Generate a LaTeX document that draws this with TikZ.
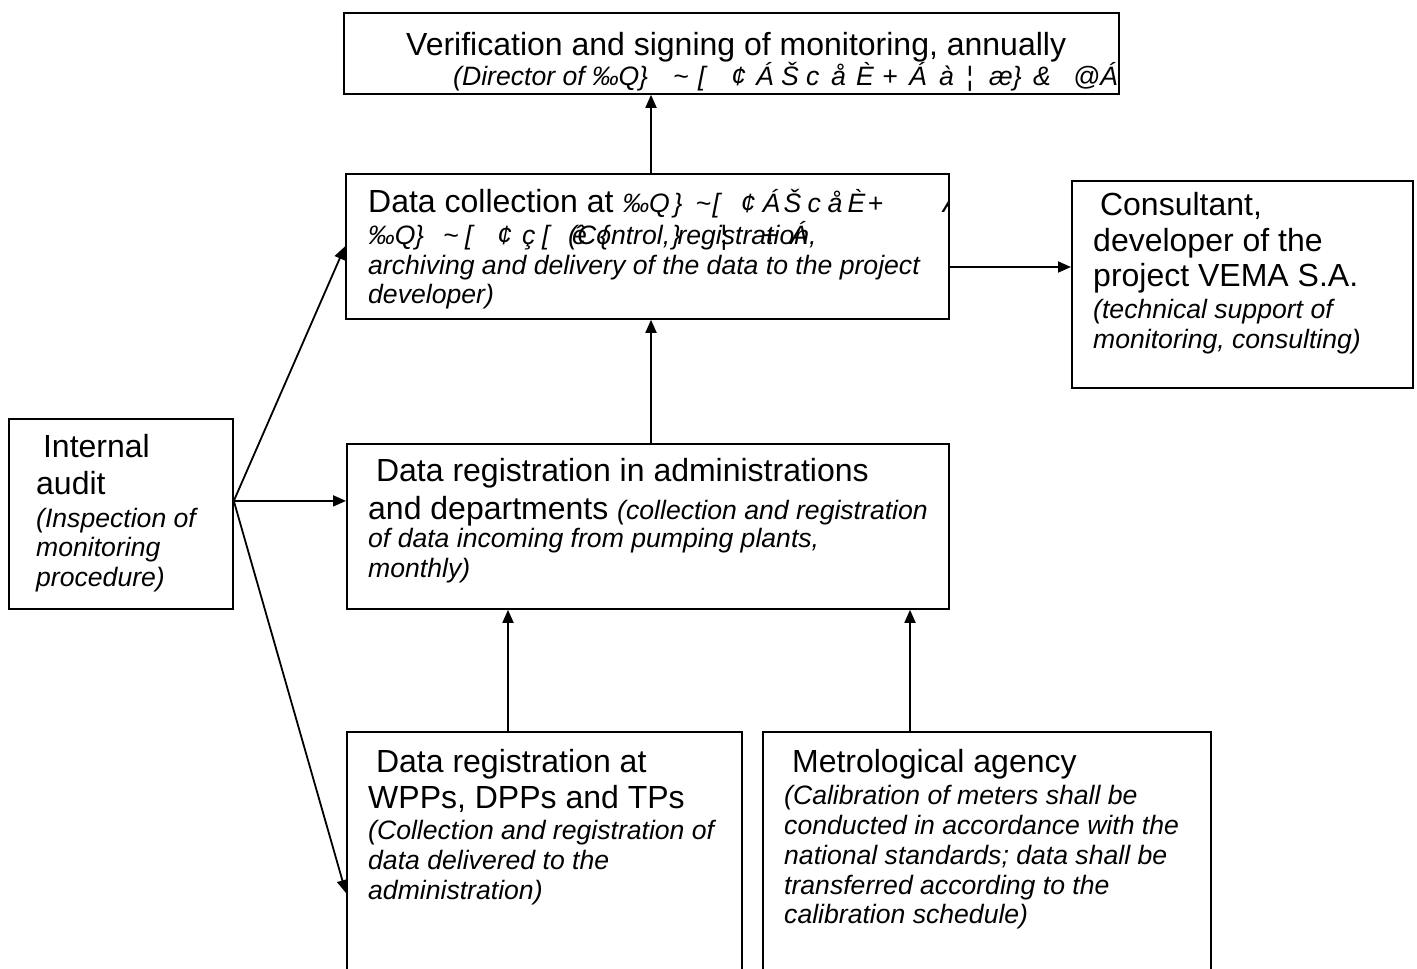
\documentclass[tikz,border=0pt]{standalone}
\usepackage{fontspec}
\setmainfont{Liberation Sans}
\usetikzlibrary{arrows.meta}
\newcommand\gl[2]{\makebox[#1pt][l]{#2}}
\newcommand\itsz{\fontsize{26.6}{30}\selectfont\itshape}
\begin{document}
\begin{tikzpicture}[x=1pt,y=-1pt,
  box/.style={draw, line width=1.8pt, rectangle, inner sep=0pt, anchor=north west},
  mt/.style={anchor=base west, inner sep=0pt, font=\fontsize{32}{36}\selectfont},
  it/.style={anchor=base west, inner sep=0pt, font=\itsz},
  arr/.style={line width=1.8pt, -{Triangle[length=13pt,width=11pt]}}]
\clip (0,0) rectangle (1417,969);
\fill[white] (0,0) rectangle (1417,969);
% boxes
\node[box, minimum width=775pt, minimum height=81pt] (top) at (343,12) {};
\node[box, minimum width=603pt, minimum height=145pt] (dc) at (345,173) {};
\node[box, minimum width=341pt, minimum height=207pt] (cons) at (1071,180) {};
\node[box, minimum width=224pt, minimum height=190pt] (audit) at (8,418) {};
\node[box, minimum width=602pt, minimum height=165pt] (admin) at (346,443) {};
\node[box, minimum width=395pt, minimum height=300pt] (wpp) at (346,731) {};
\node[box, minimum width=448pt, minimum height=300pt] (metro) at (762,731) {};
% top box text
\begin{scope}
\clip (top.south west) rectangle (top.north east);
\node[mt] (t1) at (406,55) {Verification and signing of monitoring, annually};
\node[it] (t2) at (453,85) {(Director of \gl{47}{‰Q}\gl{34}{\}}\gl{25}{\textasciitilde}\gl{33}{[}\gl{25}{¢}\gl{25}{Á}\gl{25}{Š}\gl{25}{c}\gl{25}{å}\gl{26}{È}\gl{27}{+}\gl{30}{Á}\gl{27}{à}\gl{23}{¦}\gl{44}{æ\}}\gl{40}{\&}@Á};
\end{scope}
% data collection text
\begin{scope}
\clip (dc.south west) rectangle (dc.north east);
\node[mt] (d1) at (368,212) {Data collection at {\itsz\gl{51}{‰Q}\gl{22}{\}}\gl{17}{\textasciitilde}\gl{28}{[}\gl{22}{¢}\gl{21}{Á}\gl{24}{Š}\gl{20}{c}\gl{20}{å}\gl{20}{È}\gl{75}{+}Á}};
\node[it] (d2) at (368,244) {\gl{47}{‰Q}\gl{28}{\}}\gl{22}{\textasciitilde}\gl{32}{[}\gl{25}{¢}\gl{20}{ç}\gl{30}{[}\gl{28}{ê}\gl{72}{\{}\gl{48}{\}}\gl{42}{¦}\gl{28}{+}Á};
\node[it] (d2b) at (568,244) {(Control, registration,};
\node[it] (d3) at (368,274) {archiving and delivery of the data to the project};
\node[it] (d4) at (368,303) {developer)};
\end{scope}
% consultant
\node[mt] (c1) at (1091,215) {\ Consultant,};
\node[mt] (c2) at (1093,251) {developer of the};
\node[mt] (c3) at (1093,286) {project VEMA S.A.};
\node[it] (c4) at (1093,318) {(technical support of};
\node[it] (c5) at (1093,348) {monitoring, consulting)};
% internal audit
\node[mt] (a1) at (34,457) {\ Internal};
\node[mt] (a2) at (36,494) {audit};
\node[it] (a3) at (36,527) {(Inspection of};
\node[it] (a4) at (36,556) {monitoring};
\node[it] (a5) at (36,586) {procedure)};
% admin
\node[mt] (r1) at (367,481) {\ Data registration in administrations};
\node[mt] (r2) at (368,519) {and departments {\itsz (collection and registration}};
\node[it] (r3) at (368,547) {of data incoming from pumping plants,};
\node[it] (r4) at (368,577) {monthly)};
% wpp
\node[mt] (w1) at (367,772) {\ Data registration at};
\node[mt] (w2) at (368,808) {WPPs, DPPs and TPs};
\node[it] (w3) at (368,839) {(Collection and registration of};
\node[it] (w4) at (368,869) {data delivered to the};
\node[it] (w5) at (368,899) {administration)};
% metro
\node[mt] (m1) at (783,772) {\ Metrological agency};
\node[it] (m2) at (784,804) {(Calibration of meters shall be};
\node[it] (m3) at (784,834) {conducted in accordance with the};
\node[it] (m4) at (784,864) {national standards; data shall be};
\node[it] (m5) at (784,894) {transferred according to the};
\node[it] (m6) at (784,923) {calibration schedule)};
% connectors
\coordinate (ao) at ([yshift=13pt]audit.east);
\draw[arr] (ao) -- (dc.west);
\draw[arr] (ao) -- (ao -| admin.west);
\draw[arr] (ao) -- (wpp.west |- 0,893);
\draw[arr] (dc.north -| 651,0) -- (top.south -| 651,0);
\draw[arr] (admin.north -| 651,0) -- (dc.south -| 651,0);
\draw[arr] (dc.east |- 0,267) -- (cons.west |- 0,267);
\draw[arr] (wpp.north -| 508,0) -- (admin.south -| 508,0);
\draw[arr] (metro.north -| 910,0) -- (admin.south -| 910,0);
\end{tikzpicture}
\end{document}
